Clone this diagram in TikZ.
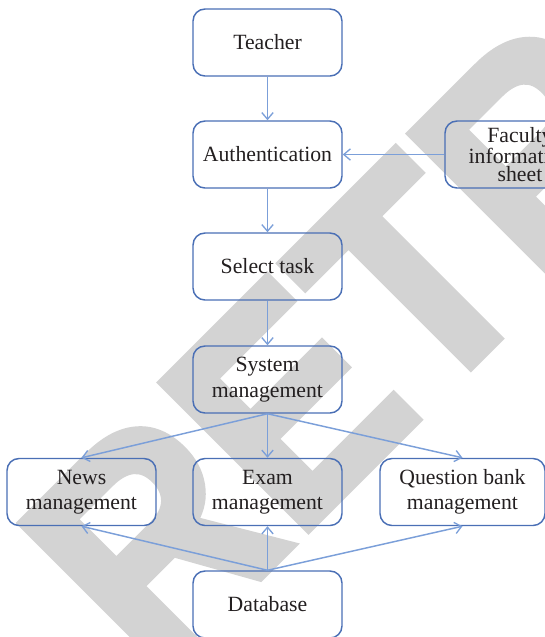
\documentclass[tikz,border=0pt]{standalone}
\usepackage{fontspec}
\setmainfont{Liberation Serif}
\newfontfamily\wmfont{Liberation Sans}[BoldFeatures={FakeBold=3}]
\usetikzlibrary{arrows.meta}
\definecolor{boxblue}{HTML}{4A6FB5}
\definecolor{linkblue}{HTML}{7B9FD9}
\definecolor{wmgray}{HTML}{D3D3D3}
\definecolor{txt}{HTML}{231F20}
\tikzset{
  stepbox/.style={draw=boxblue, line width=1.1pt, rounded corners=9pt,
    minimum width=111.75pt, minimum height=50.25pt, align=center,
    text=txt, font=\fontsize{16.3}{19}\selectfont, inner sep=2pt},
  link/.style={draw=linkblue, line width=1.1pt,
    -{Straight Barb[length=5pt,width=8.5pt,line width=1pt]}},
  wm/.style={text=wmgray, font=\wmfont\bfseries\fontsize{225}{225}\selectfont, inner sep=0pt}
}
\begin{document}
\begin{tikzpicture}[x=0.75pt,y=-0.75pt]
\useasboundingbox (0,0) rectangle (545,637);
\clip (0,0) rectangle (545,637);
\node[wm, anchor=base west, rotate=45, xscale=0.918] (wmark) at (154.5,682.5) {RETRACTED};
\node[stepbox] (teacher) at (267.5,42.5) {Teacher};
\node[stepbox] (auth) at (267.5,154.5) {Authentication};
\node[stepbox, minimum width=112.5pt, font=\fontsize{16.3}{13.5}\selectfont] (fac) at (520,154.5) {Faculty\\information\\sheet};
\node[stepbox] (task) at (267.5,266.5) {Select task};
\node[stepbox] (sys) at (267.5,379.5) {System\\management};
\node[stepbox] (news) at (81.5,492) {News\\management};
\node[stepbox] (exam) at (267.5,492) {Exam\\management};
\node[stepbox, minimum width=123.75pt] (qb) at (462.5,492) {Question bank\\management};
\node[stepbox] (db) at (267.5,604.5) {Database};
\draw[link] (teacher) -- (auth);
\draw[link] (fac) -- (auth);
\draw[link] (auth) -- (task);
\draw[link] (task) -- (sys);
\draw[link] (sys.south) -- (news.north);
\draw[link] (sys.south) -- (exam.north);
\draw[link] (sys.south) -- (qb.north);
\draw[link] (db.north) -- (news.south);
\draw[link] (db.north) -- (exam.south);
\draw[link] (db.north) -- (qb.south);
\end{tikzpicture}
\end{document}
